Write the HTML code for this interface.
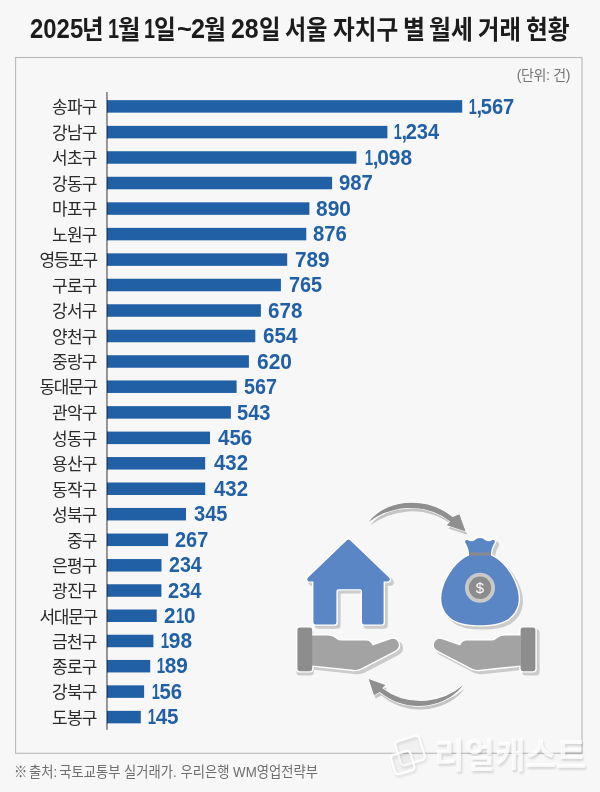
<!DOCTYPE html>
<html lang="ko">
<head>
<meta charset="utf-8">
<title>2025년 1월 1일~2월 28일 서울 자치구 별 월세 거래 현황</title>
<style>
html,body{margin:0;padding:0;}
body{width:600px;height:792px;background:#f7f7f7;position:relative;overflow:hidden;font-family:"Liberation Sans","Noto Sans CJK KR",sans-serif;color:#222;}
h1{position:absolute;left:0;top:0;width:600px;height:50px;margin:0;font-size:26.3px;line-height:30px;font-weight:bold;color:#1c1c1c;white-space:nowrap;}
h1 span{position:absolute;transform-origin:0 0;line-height:30px;}
h1 .h{top:15.20px;font-size:26.3px;}
h1 .d{top:14.25px;font-size:26.8px;}
.unit{position:absolute;left:470px;top:65px;width:100px;text-align:right;font-size:14px;line-height:20px;color:#757575;letter-spacing:-0.35px;white-space:nowrap;}
.row{position:absolute;left:0;width:600px;height:24px;}
.lab{position:absolute;right:503.4px;top:1.8px;line-height:24px;font-size:17px;letter-spacing:-0.8px;color:#2a2a2a;white-space:nowrap;}
.l4{letter-spacing:-1.25px;margin-right:-0.4px;}
.val{position:absolute;top:0.2px;line-height:24px;font-size:21.7px;font-weight:bold;color:#2160a4;letter-spacing:0;white-space:nowrap;transform-origin:0 50%;}
.val i{font-style:normal;display:inline-block;transform:scaleX(0.72);margin:0 -1.5px;}
.val b{font-weight:bold;letter-spacing:-1.4px;}
.src{position:absolute;left:14px;top:762.4px;font-size:15px;line-height:20px;color:#6e6e6e;white-space:nowrap;transform:scaleX(0.887);transform-origin:0 0;}
.wm{position:absolute;left:433.5px;top:737.2px;font-size:35.1px;line-height:38.6px;font-weight:bold;color:rgba(255,255,255,0.8);white-space:nowrap;text-shadow:1.2px 2px 2.5px rgba(0,0,0,0.14);transform:scaleX(0.945);transform-origin:0 0;}
.art{position:absolute;left:0;top:0;}
</style>
</head>
<body>
<h1><span class="d" style="left:30.11px;transform:scaleX(0.892)">2025</span><span class="h" style="left:82.44px;transform:scaleX(0.892)">년</span> <span class="d" style="left:107.88px;transform:scaleX(0.740)">1</span><span class="h" style="left:118.12px;transform:scaleX(0.926)">월</span> <span class="d" style="left:144.38px;transform:scaleX(0.740)">1</span><span class="h" style="left:154.16px;transform:scaleX(0.901)">일</span><span class="d" style="left:176.55px;transform:scaleX(0.945)">~</span><span class="d" style="left:191.06px;transform:scaleX(0.941)">2</span><span class="h" style="left:203.94px;transform:scaleX(0.907)">월</span> <span class="d" style="left:231.07px;transform:scaleX(0.929)">28</span><span class="h" style="left:258.55px;transform:scaleX(0.889)">일</span> <span class="h" style="left:285.06px;transform:scaleX(0.875)">서울</span> <span class="h" style="left:332.80px;transform:scaleX(0.899)">자치구</span> <span class="h" style="left:402.98px;transform:scaleX(0.909)">별</span> <span class="h" style="left:428.72px;transform:scaleX(0.907)">월세</span> <span class="h" style="left:478.01px;transform:scaleX(0.886)">거래</span> <span class="h" style="left:525.61px;transform:scaleX(0.902)">현황</span></h1>
<svg class="art" width="600" height="792" viewBox="0 0 600 792" aria-hidden="true">
<rect x="15.6" y="57.5" width="566.4" height="695.8" fill="none" stroke="#b8b8b8" stroke-width="1.1"/>
<rect x="106.1" y="92" width="1.7" height="637.8" fill="#858585"/>
<g fill="#2160a4">
<rect x="107.1" y="100.15" width="355.1" height="12.5"/>
<rect x="107.1" y="100.15" width="0.8" height="12.5" fill="#0d3a78"/>
<rect x="107.1" y="125.85" width="280.3" height="12.5"/>
<rect x="107.1" y="125.85" width="0.8" height="12.5" fill="#0d3a78"/>
<rect x="107.1" y="151.25" width="249.3" height="12.5"/>
<rect x="107.1" y="151.25" width="0.8" height="12.5" fill="#0d3a78"/>
<rect x="107.1" y="176.78" width="225.0" height="12.5"/>
<rect x="107.1" y="176.78" width="0.8" height="12.5" fill="#0d3a78"/>
<rect x="107.1" y="202.32" width="202.3" height="12.5"/>
<rect x="107.1" y="202.32" width="0.8" height="12.5" fill="#0d3a78"/>
<rect x="107.1" y="227.85" width="199.2" height="12.5"/>
<rect x="107.1" y="227.85" width="0.8" height="12.5" fill="#0d3a78"/>
<rect x="107.1" y="253.35" width="180.1" height="12.5"/>
<rect x="107.1" y="253.35" width="0.8" height="12.5" fill="#0d3a78"/>
<rect x="107.1" y="278.75" width="173.8" height="12.5"/>
<rect x="107.1" y="278.75" width="0.8" height="12.5" fill="#0d3a78"/>
<rect x="107.1" y="304.25" width="153.8" height="12.5"/>
<rect x="107.1" y="304.25" width="0.8" height="12.5" fill="#0d3a78"/>
<rect x="107.1" y="329.75" width="148.2" height="12.5"/>
<rect x="107.1" y="329.75" width="0.8" height="12.5" fill="#0d3a78"/>
<rect x="107.1" y="355.25" width="141.8" height="12.5"/>
<rect x="107.1" y="355.25" width="0.8" height="12.5" fill="#0d3a78"/>
<rect x="107.1" y="380.45" width="129.5" height="12.5"/>
<rect x="107.1" y="380.45" width="0.8" height="12.5" fill="#0d3a78"/>
<rect x="107.1" y="406.15" width="123.8" height="12.5"/>
<rect x="107.1" y="406.15" width="0.8" height="12.5" fill="#0d3a78"/>
<rect x="107.1" y="431.60" width="102.9" height="12.5"/>
<rect x="107.1" y="431.60" width="0.8" height="12.5" fill="#0d3a78"/>
<rect x="107.1" y="457.05" width="98.1" height="12.5"/>
<rect x="107.1" y="457.05" width="0.8" height="12.5" fill="#0d3a78"/>
<rect x="107.1" y="482.50" width="98.1" height="12.5"/>
<rect x="107.1" y="482.50" width="0.8" height="12.5" fill="#0d3a78"/>
<rect x="107.1" y="507.95" width="78.9" height="12.5"/>
<rect x="107.1" y="507.95" width="0.8" height="12.5" fill="#0d3a78"/>
<rect x="107.1" y="533.55" width="61.0" height="12.5"/>
<rect x="107.1" y="533.55" width="0.8" height="12.5" fill="#0d3a78"/>
<rect x="107.1" y="559.05" width="54.4" height="12.5"/>
<rect x="107.1" y="559.05" width="0.8" height="12.5" fill="#0d3a78"/>
<rect x="107.1" y="584.27" width="54.3" height="12.5"/>
<rect x="107.1" y="584.27" width="0.8" height="12.5" fill="#0d3a78"/>
<rect x="107.1" y="609.50" width="49.6" height="12.5"/>
<rect x="107.1" y="609.50" width="0.8" height="12.5" fill="#0d3a78"/>
<rect x="107.1" y="634.73" width="46.3" height="12.5"/>
<rect x="107.1" y="634.73" width="0.8" height="12.5" fill="#0d3a78"/>
<rect x="107.1" y="659.95" width="43.1" height="12.5"/>
<rect x="107.1" y="659.95" width="0.8" height="12.5" fill="#0d3a78"/>
<rect x="107.1" y="685.35" width="37.0" height="12.5"/>
<rect x="107.1" y="685.35" width="0.8" height="12.5" fill="#0d3a78"/>
<rect x="107.1" y="710.85" width="33.7" height="12.5"/>
<rect x="107.1" y="710.85" width="0.8" height="12.5" fill="#0d3a78"/>
</g>
</svg>
<div class="unit">(단위: 건)</div>
<div class="row" style="top:94.40px"><span class="lab">송파구</span><span class="val" style="left:467.6px;transform:scaleX(0.928)"><i>1</i><b>,</b>567</span></div>
<div class="row" style="top:120.10px"><span class="lab">강남구</span><span class="val" style="left:393.1px;transform:scaleX(0.926)"><i>1</i><b>,</b>234</span></div>
<div class="row" style="top:145.50px"><span class="lab">서초구</span><span class="val" style="left:363.6px;transform:scaleX(0.963)"><i>1</i><b>,</b>098</span></div>
<div class="row" style="top:171.03px"><span class="lab">강동구</span><span class="val" style="left:339.1px;transform:scaleX(0.937)">987</span></div>
<div class="row" style="top:196.57px"><span class="lab">마포구</span><span class="val" style="left:316.4px;transform:scaleX(0.966)">890</span></div>
<div class="row" style="top:222.10px"><span class="lab">노원구</span><span class="val" style="left:313.1px;transform:scaleX(0.937)">876</span></div>
<div class="row" style="top:247.60px"><span class="lab l4">영등포구</span><span class="val" style="left:295.1px;transform:scaleX(0.958)">789</span></div>
<div class="row" style="top:273.00px"><span class="lab">구로구</span><span class="val" style="left:289.4px;transform:scaleX(0.916)">765</span></div>
<div class="row" style="top:298.50px"><span class="lab">강서구</span><span class="val" style="left:268.4px;transform:scaleX(0.949)">678</span></div>
<div class="row" style="top:324.00px"><span class="lab">양천구</span><span class="val" style="left:263.4px;transform:scaleX(0.949)">654</span></div>
<div class="row" style="top:349.50px"><span class="lab">중랑구</span><span class="val" style="left:256.8px;transform:scaleX(0.966)">620</span></div>
<div class="row" style="top:374.70px"><span class="lab l4">동대문구</span><span class="val" style="left:244.2px;transform:scaleX(0.909)">567</span></div>
<div class="row" style="top:400.40px"><span class="lab">관악구</span><span class="val" style="left:237.0px;transform:scaleX(0.926)">543</span></div>
<div class="row" style="top:425.85px"><span class="lab">성동구</span><span class="val" style="left:217.7px;transform:scaleX(0.947)">456</span></div>
<div class="row" style="top:451.30px"><span class="lab">용산구</span><span class="val" style="left:213.6px;transform:scaleX(0.938)">432</span></div>
<div class="row" style="top:476.75px"><span class="lab">동작구</span><span class="val" style="left:213.6px;transform:scaleX(0.938)">432</span></div>
<div class="row" style="top:502.20px"><span class="lab">성북구</span><span class="val" style="left:194.0px;transform:scaleX(0.924)">345</span></div>
<div class="row" style="top:527.80px"><span class="lab">중구</span><span class="val" style="left:174.8px;transform:scaleX(0.918)">267</span></div>
<div class="row" style="top:553.30px"><span class="lab">은평구</span><span class="val" style="left:168.8px;transform:scaleX(0.905)">234</span></div>
<div class="row" style="top:578.52px"><span class="lab">광진구</span><span class="val" style="left:167.8px;transform:scaleX(0.925)">234</span></div>
<div class="row" style="top:603.75px"><span class="lab l4">서대문구</span><span class="val" style="left:163.9px;transform:scaleX(0.951)">2<i>1</i>0</span></div>
<div class="row" style="top:628.98px"><span class="lab">금천구</span><span class="val" style="left:160.2px;transform:scaleX(0.965)"><i>1</i>98</span></div>
<div class="row" style="top:654.20px"><span class="lab">종로구</span><span class="val" style="left:156.3px;transform:scaleX(0.959)"><i>1</i>89</span></div>
<div class="row" style="top:679.60px"><span class="lab">강북구</span><span class="val" style="left:150.7px;transform:scaleX(0.938)"><i>1</i>56</span></div>
<div class="row" style="top:705.10px"><span class="lab">도봉구</span><span class="val" style="left:146.6px;transform:scaleX(0.952)"><i>1</i>45</span></div>
<svg class="art" width="600" height="792" viewBox="0 0 600 792" aria-hidden="true">
<defs>
<path id="house" d="M346.9 540.3 Q348.5 538.7 350.1 540.3 L388.9 577.6 Q391 580 388.3 581.4 L383.6 581.4 L383.6 622.2 Q383.6 624.4 381.4 624.4 L364.2 624.4 Q362 624.4 362 622.2 L362 591.2 Q362 589.2 360 589.2 L338.4 589.2 Q336.4 589.2 336.4 591.2 L336.4 622.2 Q336.4 624.4 334.2 624.4 L315.6 624.4 Q313.4 624.4 313.4 622.2 L313.4 581.4 L308.7 581.4 Q306 580 308.1 577.6 Z"/>
<path id="bag" d="M469 555.6 L469 552.6 C468.5 548.6 467.2 545.6 465.5 542.9 C464.3 540.9 466 539.4 468 540.3 C470.2 541.7 472.6 541.7 474.6 540.2 C476.4 538.8 478 538 480 538 C482 538 483.6 538.8 485.4 540.2 C487.4 541.7 489.8 541.7 492 540.3 C494 539.4 495.7 540.9 494.5 542.9 C492.8 545.6 491.5 548.6 491 552.6 L491 555.6 C502 560 513 574 517.4 589 C520.6 600.5 518.2 612 508 619.2 C499 624.8 488 625.2 480 625.2 C472 625.2 461 624.8 452 619.2 C441.8 612 439.4 600.5 442.6 589 C447 574 458 560 469 555.6 Z"/>
<rect id="cuff" x="297.4" y="627.4" width="14.8" height="43.8" rx="2.4"/>
<path id="hand" d="M312 635.6 L327 635.6 Q333 635.8 336 638.4 Q338.6 640.6 342 640.6 L366 640.6 Q370.6 640.8 372.6 645.4 L390.6 639.2 Q396.2 637.6 398.4 642.6 Q400.2 647.6 395.6 650.4 L361 668.6 Q357.6 670.2 353.6 669.8 L312 665.4 Z"/>
<path id="arrT" d="M368.4 522.2 Q381 506 405 503 Q432 500.4 452.6 517 L459.4 514.2 L465.6 531.4 L446.8 525.2 L450.2 521.4 Q431 506.6 406 508 Q384 510 368.4 522.2 Z"/>
<path id="arrB" d="M463.2 685 Q451 701.4 427 705.6 Q400 708.6 379.8 692 L374 695.2 L368.6 679 L385.4 685 L382.2 688.2 Q401 702.4 426 700.8 Q448 698.4 463.2 685 Z"/>
</defs>
<g fill="#cbcbcb" stroke="#cbcbcb" stroke-width="2.8" stroke-linejoin="round" transform="translate(2.8,3)">
<use href="#house"/><use href="#bag"/><use href="#cuff" transform="translate(-2.4,0)"/><use href="#hand"/>
<g transform="translate(832.8,0) scale(-1,1)"><use href="#cuff"/><use href="#hand"/></g>
</g>
<g fill="#c4c4c4" transform="translate(1.6,3.4)"><use href="#arrT"/><use href="#arrB"/></g>
<g fill="#fff" stroke="#fff" stroke-width="2.8" stroke-linejoin="round">
<use href="#house"/><use href="#bag"/><use href="#cuff"/><use href="#hand"/>
<g transform="translate(832.8,0) scale(-1,1)"><use href="#cuff"/><use href="#hand"/></g>
</g>
<g fill="#fff" stroke="#fff" stroke-width="1.4" stroke-linejoin="round"><use href="#arrT"/><use href="#arrB"/></g>
<use href="#house" fill="#5a86c6"/>
<use href="#bag" fill="#5a86c6"/>
<rect x="469.2" y="552.4" width="21.6" height="3.2" rx="1" fill="#8a8a8a"/>
<circle cx="480" cy="587.8" r="15" fill="#c9c9c9"/>
<circle cx="480" cy="587.8" r="11.2" fill="#8c8c8c"/>
<text x="480" y="593.2" text-anchor="middle" font-family="'Liberation Sans',sans-serif" font-size="15" fill="#fff">$</text>
<use href="#hand" fill="#a3a3a3"/><use href="#cuff" fill="#8d8d8d"/>
<g transform="translate(832.8,0) scale(-1,1)"><use href="#hand" fill="#a3a3a3"/><use href="#cuff" fill="#8d8d8d"/></g>
<use href="#arrT" fill="#8f8f8f"/><use href="#arrB" fill="#8f8f8f"/>
</svg>

<div class="src"><span style="margin-right:2px">※</span>출처:<span style="margin-left:-2px"> </span>국토교통부 실거래가. 우리은행 WM영업전략부</div>
<svg class="art" width="600" height="792" viewBox="0 0 600 792" aria-hidden="true">
<defs><filter id="ws" x="-20%" y="-20%" width="140%" height="150%"><feGaussianBlur stdDeviation="1.2"/></filter></defs>
<g fill="none" stroke="#000" stroke-opacity="0.10" stroke-width="2.6" filter="url(#ws)" transform="translate(1.2,2)">
<rect x="397.5" y="738" width="25" height="25" rx="3.5" transform="rotate(-17 410 750.5)"/>
<rect x="392.7" y="752.5" width="20" height="20" rx="3" transform="rotate(-17 402.7 762.5)"/>
</g>
<g fill="#000" fill-opacity="0.025" stroke="#fff" stroke-opacity="0.9" stroke-width="2.4">
<rect x="397.5" y="738" width="25" height="25" rx="3.5" transform="rotate(-17 410 750.5)"/>
<rect x="392.7" y="752.5" width="20" height="20" rx="3" transform="rotate(-17 402.7 762.5)"/>
</g>
</svg>
<div class="wm">리얼캐스트</div>
</body>
</html>
